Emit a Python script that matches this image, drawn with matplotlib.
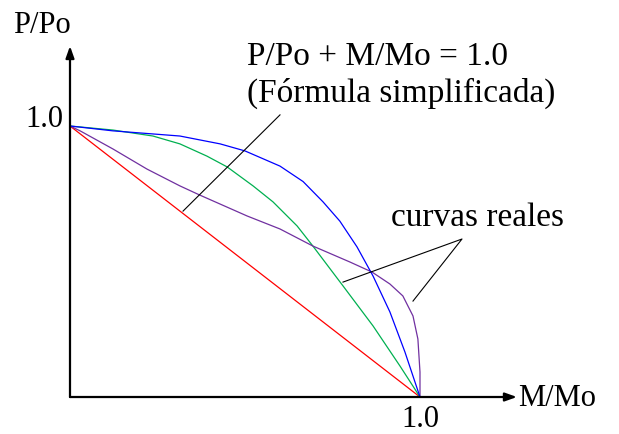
import matplotlib.pyplot as plt

plt.rcParams['font.family'] = ['Liberation Serif', 'DejaVu Serif']

# Curvas de interacción (M/Mo, P/Po)
azul_x = [0.0, 0.123, 0.314, 0.429, 0.500, 0.600, 0.666, 0.723, 0.771, 0.820,
          0.866, 0.914, 0.957, 1.0]
azul_y = [1.0, 0.982, 0.963, 0.934, 0.908, 0.852, 0.795, 0.720, 0.649, 0.554,
          0.446, 0.314, 0.166, 0.0]

verde_x = [0.0, 0.123, 0.237, 0.314, 0.391, 0.449, 0.523, 0.580, 0.649, 0.694,
           0.780, 0.866, 0.943, 1.0]
verde_y = [1.0, 0.985, 0.963, 0.934, 0.889, 0.849, 0.779, 0.720, 0.631, 0.557,
           0.410, 0.262, 0.114, 0.0]

morado_x = [0.0, 0.029, 0.123, 0.220, 0.314, 0.371, 0.506, 0.600, 0.694, 0.800,
            0.863, 0.914, 0.951, 0.980, 0.994, 1.0, 1.0]
morado_y = [1.0, 0.982, 0.915, 0.841, 0.779, 0.745, 0.668, 0.620, 0.557, 0.498,
            0.461, 0.417, 0.373, 0.299, 0.214, 0.092, 0.0]

# Fórmula simplificada P/Po + M/Mo = 1
recta_x = [0.0, 1.0]
recta_y = [1.0, 0.0]

fig = plt.figure(figsize=(6.19, 4.35), dpi=100)
ax = fig.add_axes([0, 0, 1, 1])
ax.set_xlim(-0.2, 1.5686)
ax.set_ylim(-0.1365, 1.4686)
ax.axis('off')

ax.plot(recta_x, recta_y, color='#FF0000', lw=0.9)
ax.plot(verde_x, verde_y, color='#00B050', lw=0.9)
ax.plot(morado_x, morado_y, color='#7030A0', lw=0.9)
ax.plot(azul_x, azul_y, color='#0000FF', lw=0.9)

# Ejes con flechas
flecha = dict(arrowstyle='-|>,head_length=0.7,head_width=0.25', color='black', lw=1.6,
              shrinkA=0, shrinkB=0)
ax.annotate('', xy=(1.277, 0), xytext=(0, 0), arrowprops=flecha)
ax.annotate('', xy=(0, 1.295), xytext=(0, 0), arrowprops=flecha)

# Etiquetas
ax.text(-0.163, 1.345, 'P/Po', fontsize=22, ha='left', va='baseline')
ax.text(1.28, 0.0, 'M/Mo', fontsize=22, ha='left', va='center')
ax.text(-0.02, 1.0, '1.0', fontsize=22, ha='right', va='baseline')
ax.text(1.0, -0.108, '1.0', fontsize=22, ha='center', va='baseline')

ax.text(0.506, 1.228, 'P/Po + M/Mo = 1.0', fontsize=24, ha='left', va='baseline')
ax.text(0.506, 1.092, '(Fórmula simplificada)', fontsize=24, ha='left', va='baseline')
ax.plot([0.323, 0.600], [0.686, 1.041], color='black', lw=0.8)

ax.text(1.163, 0.633, 'curvas reales', fontsize=24, ha='center', va='baseline')
ax.plot([0.780, 1.12, 0.980], [0.424, 0.583, 0.354], color='black', lw=0.8)

plt.savefig('out.png', dpi=100)
